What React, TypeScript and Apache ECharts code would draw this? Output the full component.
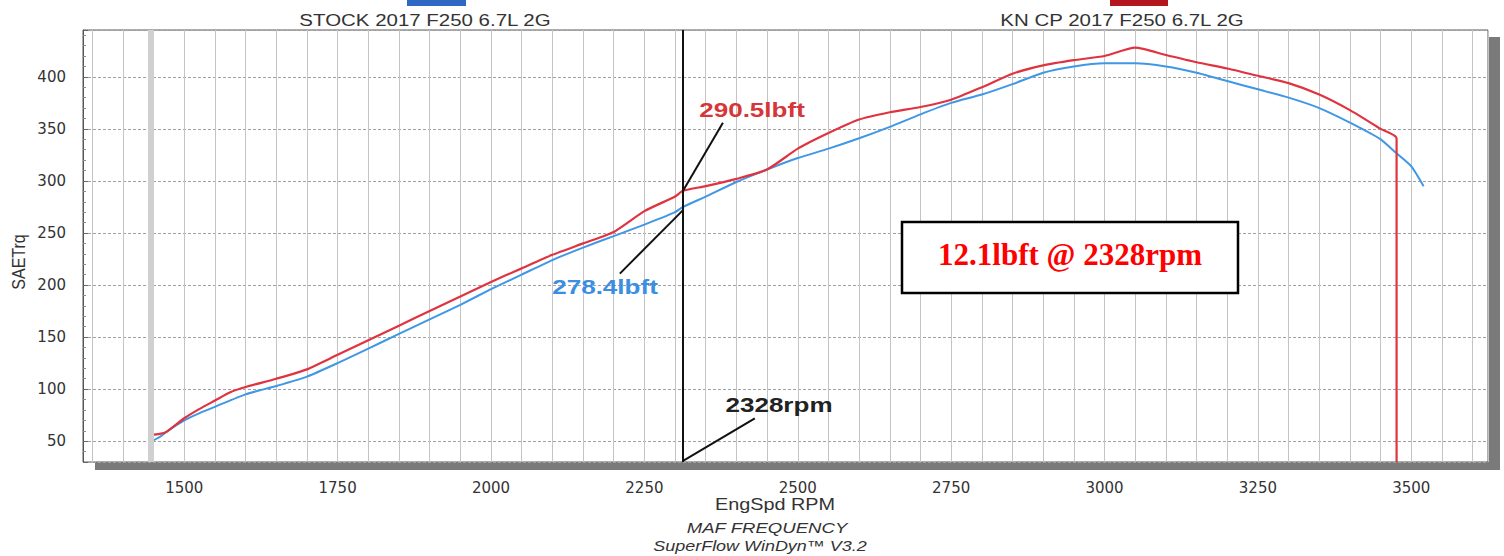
import React, { useEffect, useRef } from "react";
import * as echarts from "echarts";

// ---- data ----
const stockName = "STOCK 2017 F250 6.7L 2G";
const knName = "KN CP 2017 F250 6.7L 2G";

const stockRpm = [1447, 1460, 1471, 1500, 1525, 1550, 1600, 1650, 1700, 1750, 1800, 1850, 1900, 1950, 2000, 2050, 2100, 2150, 2200, 2250, 2300, 2313, 2350, 2400, 2450, 2500, 2550, 2600, 2650, 2700, 2750, 2800, 2850, 2900, 2950, 3000, 3050, 3100, 3150, 3200, 3250, 3300, 3350, 3400, 3450, 3475, 3500, 3520];
const stockTrq = [50, 54, 59, 70, 77, 83, 95, 103, 112, 125, 139, 153, 167, 181, 196, 210, 224, 236, 247, 258, 270, 275, 285, 299, 311, 322, 331, 341, 352, 364, 375, 383, 393, 404, 410, 413, 413, 410, 404, 396, 388, 380, 370, 356, 340, 327, 314, 295];

const knRpm = [1445, 1460, 1471, 1500, 1525, 1550, 1575, 1600, 1650, 1700, 1750, 1800, 1850, 1900, 1950, 2000, 2050, 2100, 2150, 2200, 2250, 2300, 2313, 2350, 2400, 2450, 2500, 2550, 2600, 2650, 2700, 2750, 2800, 2850, 2900, 2950, 3000, 3050, 3100, 3150, 3200, 3250, 3300, 3350, 3400, 3450, 3476, 3476];
const knTrq = [56, 57, 59, 72, 81, 89, 97, 102, 110, 119, 133, 147, 161, 175, 189, 203, 216, 229, 240, 251, 271, 285, 290.5, 295, 302, 311, 331, 346, 359, 366, 371, 378, 390, 403, 411, 416, 420, 428, 421, 414, 408, 401, 394, 383, 368, 350, 341, 30];

const xLabelValues = [1500, 1750, 2000, 2250, 2500, 2750, 3000, 3250, 3500];
const xMin = 1335;
const xMax = 3625;
const yMin = 30;
const yMax = 445;

const cursorRpm = 2313;
const knAtCursor = 290.5;
const stockAtCursor = 272;
const runStartRpm = 1446;

const knLabel = "290.5lbft";
const stockLabel = "278.4lbft";
const rpmLabel = "2328rpm";
const diffLabel = "12.1lbft @ 2328rpm";

// leader-line far ends (data space)
const knLeaderEnd = [2378, 356];
const stockLeaderEnd = [2210, 211];
const rpmLeaderEnd = [2430, 72];

const zip = (a: number[], b: number[]) => a.map((v, i) => [v, b[i]]);

const SANS = "Liberation Sans, Arial, sans-serif";
const STRETCH = 1.24;

function txt(text: string, x: number, y: number, font: string, fill: string, extra: any = {}) {
  return {
    type: "text",
    x,
    y,
    scaleX: STRETCH,
    silent: true,
    z: 100,
    style: { text, font, fill, align: "center", verticalAlign: "middle" },
    ...extra,
  };
}

export default function App() {
  const ref = useRef<HTMLDivElement>(null);

  useEffect(() => {
    document.body.style.margin = "0";
    const chart = echarts.init(ref.current as HTMLDivElement, null, { renderer: "svg" });

    const option: any = {
      animation: false,
      backgroundColor: "#ffffff",
      grid: {
        left: 83,
        top: 30,
        width: 1405,
        height: 432,
        show: true,
        borderColor: "#5a5a5a",
        borderWidth: 1,
        backgroundColor: "#ffffff",
      },
      xAxis: {
        type: "value",
        min: xMin,
        max: xMax,
        splitNumber: 46,
        axisLine: { show: false },
        axisTick: { show: false },
        axisLabel: {
          margin: 18,
          color: "#333",
          fontFamily: "DejaVu Sans",
          fontSize: 15,
          showMinLabel: false,
          showMaxLabel: false,
          formatter: (v: number) => (xLabelValues.indexOf(Math.round(v)) >= 0 ? String(Math.round(v)) : ""),
        },
        splitLine: { show: true, lineStyle: { color: "#c4c4c4", width: 1 } },
      },
      yAxis: {
        type: "value",
        min: yMin,
        max: yMax,
        splitNumber: 8,
        axisLine: { show: true, lineStyle: { color: "#555", width: 1 } },
        axisTick: { show: true, inside: true, length: 5, lineStyle: { color: "#666" } },
        minorTick: { show: true, splitNumber: 5, length: 3, lineStyle: { color: "#888" } },
        axisLabel: {
          margin: 17,
          color: "#333",
          fontFamily: "DejaVu Sans",
          fontSize: 15,
          showMinLabel: false,
          showMaxLabel: false,
        },
        splitLine: { show: true, lineStyle: { color: "#a0a0a0", type: [3, 2], width: 1 } },
      },
      series: [
        {
          name: stockName,
          type: "line",
          data: zip(stockRpm, stockTrq),
          showSymbol: false,
          symbol: "none",
          smooth: 0.2,
          lineStyle: { color: "#3f97e6", width: 2 },
          z: 3,
          markLine: {
            silent: true,
            symbol: ["none", "none"],
            label: { show: false },
            lineStyle: { color: "#111", width: 2, type: "solid" },
            data: [
              { xAxis: runStartRpm, lineStyle: { color: "#d0d0d0", width: 6, type: "solid" } },
              { xAxis: cursorRpm, lineStyle: { color: "#111", width: 2, type: "solid" } },
              [{ coord: [cursorRpm, knAtCursor] }, { coord: knLeaderEnd }],
              [{ coord: [cursorRpm, stockAtCursor] }, { coord: stockLeaderEnd }],
              [{ coord: [cursorRpm, yMin + 1] }, { coord: rpmLeaderEnd }],
            ],
          },
        },
        {
          name: knName,
          type: "line",
          data: zip(knRpm, knTrq),
          showSymbol: false,
          symbol: "none",
          smooth: 0.2,
          lineStyle: { color: "#df3440", width: 2.2 },
          z: 4,
        },
      ],
      graphic: [
        // frame shadow
        { type: "rect", silent: true, shape: { x: 95, y: 462, width: 1405, height: 8 }, style: { fill: "#7a7a7a" } },
        { type: "rect", silent: true, shape: { x: 1488, y: 37, width: 12, height: 433 }, style: { fill: "#7a7a7a" } },
        // legend swatches
        { type: "rect", silent: true, shape: { x: 407, y: 0, width: 59, height: 6 }, style: { fill: "#2e68c4" } },
        { type: "rect", silent: true, shape: { x: 1110, y: 0, width: 58, height: 6 }, style: { fill: "#b3161e" } },
        txt(stockName, 425, 20, `16.5px ${SANS}`, "#333"),
        txt(knName, 1122, 20, `16.5px ${SANS}`, "#333"),
        // axis titles
        {
          type: "text",
          x: 18,
          y: 262,
          rotation: Math.PI / 2,
          scaleY: 1.2,
          silent: true,
          style: { text: "SAETrq", font: `16px ${SANS}`, fill: "#333", align: "center", verticalAlign: "middle" },
        },
        txt("EngSpd RPM", 775, 505, `16px ${SANS}`, "#333"),
        txt("MAF FREQUENCY", 767, 528, `italic 15px ${SANS}`, "#333"),
        txt("SuperFlow WinDyn\u2122 V3.2", 760, 546, `italic 14.5px ${SANS}`, "#333"),
        // point annotations
        txt(knLabel, 752, 110, `bold 21px ${SANS}`, "#d63638"),
        txt(stockLabel, 605, 287, `bold 21px ${SANS}`, "#3b8ee2"),
        txt(rpmLabel, 779, 405, `bold 21px ${SANS}`, "#222"),
        // difference box
        {
          type: "rect",
          silent: true,
          z: 100,
          shape: { x: 902, y: 222, width: 336, height: 71 },
          style: { fill: "#ffffff", stroke: "#000000", lineWidth: 2.5 },
        },
        {
          type: "text",
          x: 1070,
          y: 254,
          silent: true,
          z: 101,
          style: {
            text: diffLabel,
            font: "bold 31px 'Liberation Serif', 'Times New Roman', serif",
            fill: "#ff0000",
            align: "center",
            verticalAlign: "middle",
          },
        },
      ],
    };

    chart.setOption(option);
    return () => chart.dispose();
  }, []);

  return <div ref={ref} style={{ width: 1504, height: 556 }} />;
}
